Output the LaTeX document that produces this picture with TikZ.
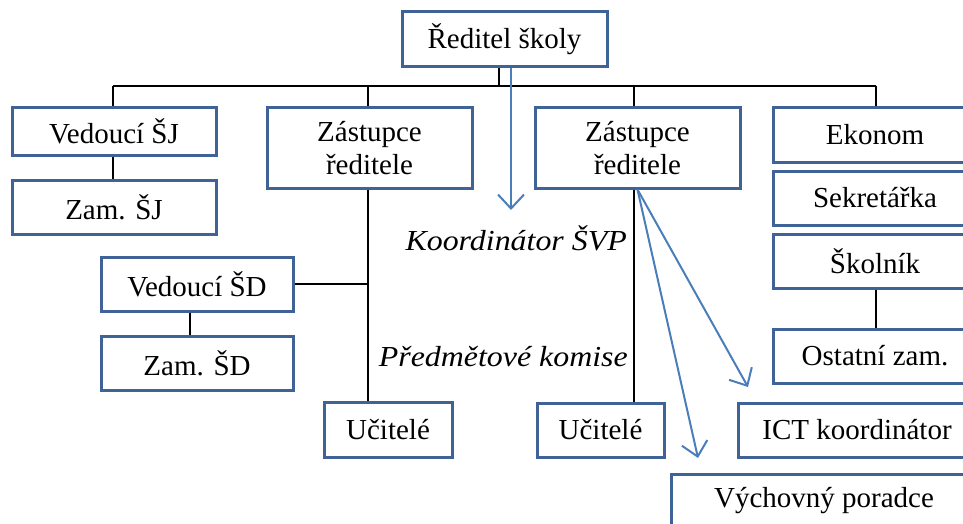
\documentclass[tikz,border=0pt]{standalone}
\usepackage{fontspec}
\newfontfamily\boxfont{Liberation Serif}
\usetikzlibrary{arrows.meta}
\definecolor{boxblue}{HTML}{3F6396}
\definecolor{arrowblue}{HTML}{4A7EBB}
\tikzset{
  unit/.style={draw=boxblue, line width=3pt, fill=white, inner sep=0pt,
    align=center, font=\boxfont\fontsize{29}{33}\selectfont},
  link/.style={black, line width=2.2pt},
  pointer/.style={arrowblue, line width=2pt,
    -{Straight Barb[length=14pt,width=26pt,line width=2pt]}},
  note/.style={inner sep=0pt, font=\boxfont\itshape\fontsize{29}{33}\selectfont, xscale=1.1}
}
\begin{document}
\begin{tikzpicture}[x=1pt,y=-1pt]
\useasboundingbox (0,0) rectangle (963,524);
\clip (0,0) rectangle (963,524);

% boxes
\node[unit, minimum width=205pt, minimum height=55pt] (dir) at (504.5,39.5) {Ředitel školy};
\node[unit, minimum width=204pt, minimum height=47pt] (vsj) at (114,131.5) {Vedoucí ŠJ};
\node[unit, minimum width=204pt, minimum height=54pt] (zsj) at (114,207) {Zam. ŠJ};
\node[unit, minimum width=205pt, minimum height=80pt] (zr1) at (369.5,148) {Zástupce\\ředitele};
\node[unit, minimum width=205pt, minimum height=80pt] (zr2) at (637.5,148) {Zástupce\\ředitele};
\node[unit, minimum width=204pt, minimum height=54pt] (eko) at (875,135) {Ekonom};
\node[unit, minimum width=204pt, minimum height=54pt] (sek) at (875,198) {Sekretářka};
\node[unit, minimum width=204pt, minimum height=54pt] (sko) at (875,261) {Školník};
\node[unit, minimum width=204pt, minimum height=54pt] (ost) at (875,356) {Ostatní zam.};
\node[unit, minimum width=192pt, minimum height=54pt] (vsd) at (197,284) {Vedoucí ŠD};
\node[unit, minimum width=192pt, minimum height=54pt] (zsd) at (197,363) {Zam. ŠD};
\node[unit, minimum width=128pt, minimum height=55pt] (uc1) at (388,429.5) {Učitelé};
\node[unit, minimum width=127pt, minimum height=54pt] (uc2) at (600.5,430) {Učitelé};
\node[unit, minimum width=238pt, minimum height=54pt] (ict) at (857,430) {ICT koordinátor};
\node[unit, minimum width=306pt, minimum height=54pt] (vp) at (824,501) {Výchovný poradce};

% italic labels
\node[note, anchor=east] (ksvp) at (627,238) {Koordinátor ŠVP};
\node[note, anchor=east] (pk) at (628,357) {Předmětové komise};

% tree lines
\coordinate (busL) at (113,86);
\coordinate (busR) at (876,86);
\coordinate (busM) at (499,86);
\coordinate (j1) at (368,285);
\draw[link] (dir.south -| busM) -- (busM);
\draw[link] (busL) -- (busR);
\draw[link] (busL) -- (vsj.north -| busL);
\draw[link] (368,86) -- (zr1.north -| j1);
\draw[link] (634,86) -- (zr2.north -| 634,0);
\draw[link] (busR) -- (eko.north -| busR);
\draw[link] (vsj.south -| busL) -- (zsj.north -| busL);
\draw[link] (zr1.south -| j1) -- (uc1.north -| j1);
\draw[link] (vsd.east) -- (vsd.east -| j1);
\draw[link] (vsd.south -| 190,0) -- (zsd.north -| 190,0);
\draw[link] (zr2.south -| 634,0) -- (uc2.north -| 634,0);
\draw[link] (sko.south -| busR) -- (ost.north -| busR);

% coordination arrows
\coordinate (kEnd) at (511,210);
\coordinate (ictEnd) at (748,387);
\coordinate (vpEnd) at (698,458);
\draw[pointer] (dir.south -| kEnd) -- (kEnd);
\draw[pointer] (zr2.south) -- (ictEnd);
\draw[pointer] (zr2.south) -- (vpEnd);
\end{tikzpicture}
\end{document}
